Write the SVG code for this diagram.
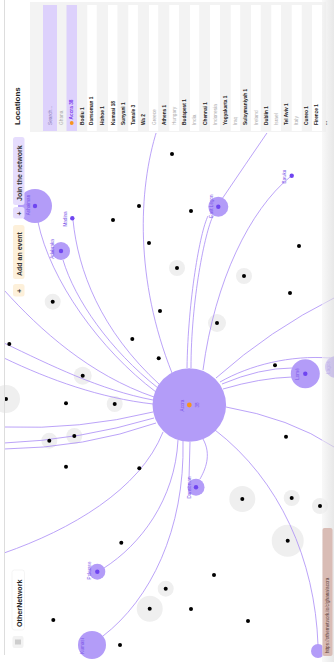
<svg xmlns="http://www.w3.org/2000/svg" width="334" height="662" viewBox="0 0 334 662">
<style>
text{font-family:"Liberation Sans",Arial,sans-serif}
.halo{fill:#efefef}
.dot{fill:#000}
.edge{fill:none;stroke:#a98cf6;stroke-width:0.8}
.node{fill:#b39cf8}
.core{fill:#6f45f0}
.lbl{font-size:4.6px;fill:#7b55e8;text-anchor:middle}
.it{font-size:4.8px;font-weight:bold;fill:#222}
.ct{font-size:4.8px;fill:#aaa}
.stripe{fill:#fff}
</style>
<defs>
<linearGradient id="shade" x1="0" y1="0" x2="1" y2="0">
<stop offset="0" stop-color="#f4f4f4"/><stop offset="1" stop-color="#d8d8d8"/>
</linearGradient>
</defs>
<rect width="334" height="662" fill="#fff"/>
<g id="halos">
<circle class="halo" cx="177" cy="268" r="8"/>
<circle class="halo" cx="244" cy="276" r="8"/>
<circle class="halo" cx="52.7" cy="301.7" r="8"/>
<circle class="halo" cx="217" cy="323" r="9"/>
<circle class="halo" cx="82.7" cy="375.7" r="9"/>
<circle class="halo" cx="6" cy="399" r="14"/>
<circle class="halo" cx="114.7" cy="404" r="8"/>
<circle class="halo" cx="74.3" cy="436" r="8"/>
<circle class="halo" cx="49.3" cy="440.7" r="8"/>
<circle class="halo" cx="242.3" cy="499" r="13"/>
<circle class="halo" cx="291.7" cy="498" r="8"/>
<circle class="halo" cx="320" cy="506" r="8"/>
<circle class="halo" cx="287.7" cy="540.7" r="16"/>
<circle class="halo" cx="165.7" cy="588.7" r="8"/>
<circle class="halo" cx="149.7" cy="608.7" r="13"/>
</g>
<g id="connectors">
<path class="edge" d="M208,216 C200,232 188,300 187,368"/>
<path class="edge" d="M213,216 C205,232 191,300 191,368"/>
<path class="edge" d="M269,130 Q245,165 222,199"/>
<path class="edge" d="M290,177 C250,210 215,280 203,370"/>
<path class="edge" d="M157,130 C138,190 135,280 172,373"/>
<path class="edge" d="M38,222 C50,280 100,350 156,392"/>
<path class="edge" d="M73,220 C78,270 100,330 160,385"/>
<path class="edge" d="M63,260 C75,300 110,350 158,388"/>
<path class="edge" d="M4,290 C40,330 90,375 154,397"/>
<path class="edge" d="M4,343 C50,365 100,390 153,400"/>
<path class="edge" d="M4,358 C50,380 100,398 153,404"/>
<path class="edge" d="M4,427 Q80,430 153,412"/>
<path class="edge" d="M4,443 Q80,440 154,418"/>
<path class="edge" d="M4,449 Q85,448 156,423"/>
<path class="edge" d="M163,432 C140,490 70,530 4,553"/>
<path class="edge" d="M178,440 C175,500 140,545 104,568"/>
<path class="edge" d="M183,441 C185,530 150,600 103,636"/>
<path class="edge" d="M203,439 C212,455 205,470 200,479"/>
<path class="edge" d="M190,442 L189,479"/>
<path class="edge" d="M215,430 C280,480 315,560 318,645"/>
<path class="edge" d="M226,407 Q290,418 334,447"/>
<path class="edge" d="M220,382 C250,365 290,355 330,358"/>
<path class="edge" d="M222,384 Q260,368 292,368"/>
<path class="edge" d="M223,389 Q260,378 292,377"/>
<path class="edge" d="M216,378 Q270,330 334,298"/>
</g>
<g id="dots">
<circle class="dot" cx="172" cy="154" r="2"/>
<circle class="dot" cx="139" cy="206" r="2"/>
<circle class="dot" cx="191" cy="211" r="2"/>
<circle class="dot" cx="113" cy="220" r="2"/>
<circle class="dot" cx="149" cy="243" r="2"/>
<circle class="dot" cx="299" cy="246" r="2"/>
<circle class="dot" cx="177" cy="268" r="2"/>
<circle class="dot" cx="244" cy="276" r="2"/>
<circle class="dot" cx="290" cy="293" r="2"/>
<circle class="dot" cx="52.7" cy="301.7" r="2"/>
<circle class="dot" cx="160" cy="311" r="2"/>
<circle class="dot" cx="217" cy="323" r="2"/>
<circle class="dot" cx="132.3" cy="339" r="2"/>
<circle class="dot" cx="9.3" cy="344" r="2"/>
<circle class="dot" cx="158.7" cy="358.3" r="2"/>
<circle class="dot" cx="275" cy="365.3" r="2"/>
<circle class="dot" cx="82.7" cy="375.7" r="2"/>
<circle class="dot" cx="6" cy="399" r="2"/>
<circle class="dot" cx="66" cy="403.3" r="2"/>
<circle class="dot" cx="114.7" cy="404" r="2"/>
<circle class="dot" cx="74.3" cy="436" r="2"/>
<circle class="dot" cx="286" cy="436.7" r="2"/>
<circle class="dot" cx="49.3" cy="440.7" r="2"/>
<circle class="dot" cx="66" cy="466.7" r="2"/>
<circle class="dot" cx="139.3" cy="468.3" r="2"/>
<circle class="dot" cx="242.3" cy="499" r="2"/>
<circle class="dot" cx="291.7" cy="498" r="2"/>
<circle class="dot" cx="320" cy="506" r="2"/>
<circle class="dot" cx="287.7" cy="540.7" r="2"/>
<circle class="dot" cx="121.3" cy="542.7" r="2"/>
<circle class="dot" cx="214" cy="575" r="2"/>
<circle class="dot" cx="165.7" cy="588.7" r="2"/>
<circle class="dot" cx="149.7" cy="608.7" r="2"/>
<circle class="dot" cx="191" cy="609" r="2"/>
<circle class="dot" cx="53.3" cy="620" r="2"/>
<circle class="dot" cx="248" cy="621" r="2"/>
<circle class="dot" cx="120" cy="645" r="2"/>
</g>
<g id="node-accra">
<circle class="node" cx="189.3" cy="405" r="36.8"/>
<circle cx="189.3" cy="405" r="2.4" fill="#f7941d"/>
<text class="lbl" transform="translate(183.5,405.5) rotate(-90)">Accra</text>
<text class="lbl" transform="translate(198.8,405) rotate(-90)">38</text>
</g>
<g id="node-ashaiman">
<circle class="node" cx="35" cy="206" r="17"/>
<circle class="core" cx="35" cy="206" r="2.2"/>
<text class="lbl" transform="translate(30,205) rotate(-90)">Ashaiman</text>
</g>
<g id="node-adabraka">
<circle class="node" cx="61" cy="251" r="9"/>
<circle class="core" cx="61" cy="251" r="2.2"/>
<text class="lbl" transform="translate(54,249) rotate(-90)">Adabraka</text>
</g>
<g id="node-madina">
<circle class="core" cx="72.3" cy="218.3" r="2.2"/>
<text class="lbl" transform="translate(67,219) rotate(-90)">Madina</text>
</g>
<g id="node-eastlegon">
<circle class="node" cx="218.3" cy="206.7" r="10"/>
<circle class="core" cx="218.3" cy="206.7" r="2.2"/>
<text class="lbl" transform="translate(212.5,206) rotate(-90)">East Legon</text>
</g>
<g id="node-bawku">
<circle class="core" cx="291.7" cy="175.7" r="2.2"/>
<text class="lbl" transform="translate(285.5,176.5) rotate(-90)">Bawku</text>
</g>
<g id="node-dansoman">
<circle class="node" cx="196" cy="487.3" r="8.5"/>
<circle class="core" cx="196" cy="487.3" r="2.2"/>
<text class="lbl" transform="translate(190.5,487.5) rotate(-90)">Dansoman</text>
</g>
<g id="node-pokuase">
<circle class="node" cx="97.3" cy="571.7" r="8"/>
<circle class="core" cx="97.3" cy="571.7" r="2.2"/>
<text class="lbl" transform="translate(91,570.5) rotate(-90)">Pokuase</text>
</g>
<g id="node-lome">
<circle class="node" cx="305.3" cy="373.7" r="14.5"/>
<circle class="core" cx="305.3" cy="373.7" r="2.2"/>
<text class="lbl" transform="translate(298.5,374) rotate(-90)">Lomé</text>
</g>
<g id="node-lagos">
<circle class="node" cx="336" cy="367" r="11"/>
<text class="lbl" transform="translate(329.5,367.5) rotate(-90)">Lagos</text>
</g>
<g id="node-kumasi">
<circle class="node" cx="92" cy="645" r="14"/>
<text class="lbl" transform="translate(84,646) rotate(-90)">Kumasi</text>
</g>
<g id="node-corner">
<circle class="node" cx="318" cy="651" r="7"/>
</g>
<line x1="4.5" y1="0" x2="4.5" y2="655" stroke="#ddd" stroke-width="1"/>
<g id="locations-panel">
<rect x="5" y="0" width="329" height="133" fill="#fff"/>
<rect x="30" y="2" width="296" height="130" fill="#f3f3f3"/>
<rect x="322" y="0" width="12" height="662" fill="url(#shade)" opacity="0.6"/>
<text transform="translate(19.5,125) rotate(-90)" font-size="8" font-weight="bold" fill="#222">Locations</text>
<rect x="43" y="5" width="14" height="126" fill="#ddd1fc"/>
<text transform="translate(52,125) rotate(-90)" font-size="4.8" fill="#8a80b8">Search...</text>
<rect x="66.5" y="5" width="10.5" height="126" fill="#ddd1fc"/>
<circle cx="71.7" cy="123" r="1.9" fill="#f7941d"/>
<text transform="translate(73.4,119.5) rotate(-90)" font-size="4.8" font-weight="bold" fill="#7c3aed">Accra 38</text>
<rect class="stripe" x="87.3" y="5" width="9.4" height="126"/>
<rect class="stripe" x="108" y="5" width="9.4" height="126"/>
<rect class="stripe" x="128.3" y="5" width="9.6" height="126"/>
<rect class="stripe" x="149" y="5" width="9.2" height="126"/>
<rect class="stripe" x="169.3" y="5" width="9.7" height="126"/>
<rect class="stripe" x="190" y="5" width="9.2" height="126"/>
<rect class="stripe" x="210" y="5" width="10" height="126"/>
<rect class="stripe" x="230.7" y="5" width="9.5" height="126"/>
<rect class="stripe" x="251" y="5" width="9.7" height="126"/>
<rect class="stripe" x="271.3" y="5" width="9.7" height="126"/>
<rect class="stripe" x="291.7" y="5" width="10" height="126"/>
<rect class="stripe" x="312" y="5" width="10" height="126"/>
<text class="ct" transform="translate(63.4,125) rotate(-90)">Ghana</text>
<text class="it" transform="translate(84,125) rotate(-90)">Bodiu 1</text>
<text class="it" transform="translate(93.4,125) rotate(-90)">Dansoman 1</text>
<text class="it" transform="translate(104.4,125) rotate(-90)">Hohoe 1</text>
<text class="it" transform="translate(115,125) rotate(-90)">Kumasi 18</text>
<text class="it" transform="translate(125,125) rotate(-90)">Sunyani 1</text>
<text class="it" transform="translate(135,125) rotate(-90)">Tamale 3</text>
<text class="it" transform="translate(145,125) rotate(-90)">Wa 2</text>
<text class="ct" transform="translate(155.7,125) rotate(-90)">Greece</text>
<text class="it" transform="translate(166,125) rotate(-90)">Athens 1</text>
<text class="ct" transform="translate(176,125) rotate(-90)">Hungary</text>
<text class="it" transform="translate(185.7,125) rotate(-90)">Budapest 1</text>
<text class="ct" transform="translate(196,125) rotate(-90)">India</text>
<text class="it" transform="translate(206.7,125) rotate(-90)">Chennai 1</text>
<text class="ct" transform="translate(216.7,125) rotate(-90)">Indonesia</text>
<text class="it" transform="translate(226.7,125) rotate(-90)">Yogyakarta 1</text>
<text class="ct" transform="translate(236.7,125) rotate(-90)">Iraq</text>
<text class="it" transform="translate(247.4,125) rotate(-90)">Sulaymaniyah 1</text>
<text class="ct" transform="translate(257.7,125) rotate(-90)">Ireland</text>
<text class="it" transform="translate(267.7,125) rotate(-90)">Dublin 1</text>
<text class="ct" transform="translate(278.4,125) rotate(-90)">Israel</text>
<text class="it" transform="translate(288.4,125) rotate(-90)">Tel Aviv 1</text>
<text class="ct" transform="translate(298.4,125) rotate(-90)">Italy</text>
<text class="it" transform="translate(308.4,125) rotate(-90)">Cuneo 1</text>
<text class="it" transform="translate(318.4,125) rotate(-90)">Firenze 1</text>
<text class="it" transform="translate(326.7,125) rotate(-90)">...</text>
</g>
<g id="buttons">
<rect x="13" y="137" width="11.5" height="68" rx="2.5" fill="#e6ddfd"/>
<text transform="translate(21.5,201) rotate(-90)" font-size="7" font-weight="bold" fill="#333">Join the network</text>
<rect x="13" y="207" width="11.5" height="11.5" rx="2.5" fill="#e6ddfd"/>
<text transform="translate(21.5,215.5) rotate(-90)" font-size="7" font-weight="bold" fill="#333">+</text>
<rect x="13" y="225" width="11.5" height="54" rx="2.5" fill="#fdf0da"/>
<text transform="translate(21.5,276) rotate(-90)" font-size="7" font-weight="bold" fill="#333">Add an event</text>
<rect x="13" y="284" width="11.5" height="12.5" rx="2.5" fill="#fdf0da"/>
<text transform="translate(21.5,293) rotate(-90)" font-size="7" font-weight="bold" fill="#333">+</text>
</g>
<g id="brand">
<rect x="12" y="570" width="12.5" height="60" rx="2.5" fill="#fff" stroke="#eee" stroke-width="0.6"/>
<text transform="translate(21.5,627) rotate(-90)" font-size="7.2" font-weight="bold" fill="#222">OtherNetwork</text>
<rect x="12.5" y="636" width="11" height="12" rx="2" fill="#f2f2f2"/>
<path d="M16,639.5 V644.5 M18,639.5 V644.5 M20,639.5 V644.5" stroke="#777" stroke-width="0.6"/>
</g>
<g id="url-bar">
<rect x="322.5" y="528" width="10" height="128" rx="2" fill="#d9bcb5"/>
<text transform="translate(329.3,653) rotate(-90)" font-size="4.6" fill="#5a3a35">https://othernetwork.io/c/ghana/accra</text>
</g>
</svg>
